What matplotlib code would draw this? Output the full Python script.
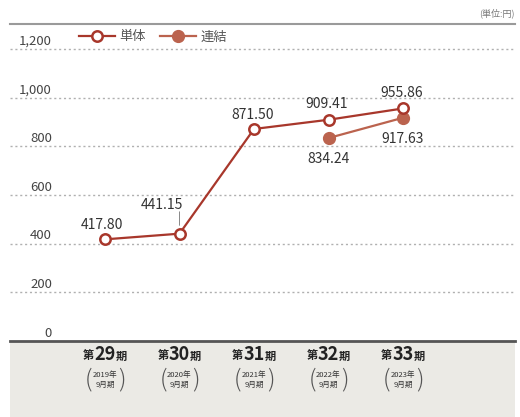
import matplotlib.pyplot as plt
from matplotlib.offsetbox import TextArea, HPacker, AnnotationBbox
from matplotlib.patches import Rectangle
import matplotlib.transforms as mtransforms

plt.rcParams['font.family'] = ['Noto Sans CJK JP', 'DejaVu Sans']

# data
periods = ['29', '30', '31', '32', '33']
years = ['2019', '2020', '2021', '2022', '2023']
single = [417.80, 441.15, 871.50, 909.41, 955.86]
consol_x = [3, 4]
consol = [834.24, 917.63]
yticks = [0, 200, 400, 600, 800, 1000, 1200]

c_single = '#a8372b'
c_consol = '#bb634e'

W, H = 520, 417
fig = plt.figure(figsize=(W / 100, H / 100), dpi=100)

# axes box in pixels: x 10..515, y 24..341 (from top)
ax = fig.add_axes([10 / W, (H - 341) / H, 505 / W, 317 / H])
ax.set_xlim(-1.275, 5.503)
ax.set_ylim(0, 1303)

# gray panel under the chart
fig.patches.append(Rectangle((10 / W, 0), 505 / W, (H - 342) / H,
                             transform=fig.transFigure, facecolor='#ebeae5',
                             edgecolor='none', zorder=-1))

for s in ['left', 'right']:
    ax.spines[s].set_visible(False)
ax.spines['top'].set_color('#9a9a9a')
ax.spines['top'].set_linewidth(1.5)
ax.spines['bottom'].set_color('#555555')
ax.spines['bottom'].set_linewidth(2)
ax.set_xticks([])
ax.set_yticks([])

# gridlines and y labels
blend = mtransforms.blended_transform_factory(fig.transFigure, ax.transData)
for v in yticks:
    if v > 0:
        ax.axhline(v, color='#b0b0b0', lw=1, ls=(0, (1.5, 2)), zorder=1)
    ax.text(52 / W, v + 5, f'{v:,}', transform=blend, ha='right', va='bottom',
            fontsize=9.5, color='#444444')

# lines
xs = list(range(len(single)))
ax.plot(xs, single, color=c_single, lw=1.6, marker='o', ms=7.5,
        mfc='white', mec=c_single, mew=1.8, label='単体', zorder=4)
ax.plot(consol_x, consol, color=c_consol, lw=1.6, marker='o', ms=8.5,
        mfc=c_consol, mec=c_consol, label='連結', zorder=3)

# value labels (offsets in points)
offs_single = [(-2, 10), (-13, 21), (-1, 10), (-1, 11), (-1, 11)]
for x, v, (dx, dy) in zip(xs, single, offs_single):
    ax.annotate(f'{v:.2f}', (x, v), xytext=(dx, dy), textcoords='offset points',
                ha='center', va='center', fontsize=10, color='#333333')
ax.annotate('', (1, 441.15), xytext=(1, 441.15 + 90),
            arrowprops=dict(arrowstyle='-', color='#888888', lw=0.7,
                            shrinkA=0, shrinkB=6))
for x, v in zip(consol_x, consol):
    ax.annotate(f'{v:.2f}', (x, v), xytext=(0, -15), textcoords='offset points',
                ha='center', va='center', fontsize=10, color='#333333')

# legend
ax.legend(loc='center left', bbox_to_anchor=(0.137, 0.959), ncol=2,
          frameon=False, handlelength=2.7, handletextpad=0.35,
          columnspacing=1.1, borderpad=0, borderaxespad=0,
          prop={'size': 9.5}, labelcolor='#555555')

# unit label
fig.text(515 / W, (H - 13) / H, '(単位:円)', ha='right', va='center',
         fontsize=6.5, color='#777777')

# x labels
xblend = mtransforms.blended_transform_factory(ax.transData, fig.transFigure)
for x, p, yr in zip(xs, periods, years):
    box = HPacker(children=[
        TextArea('第', textprops=dict(fontsize=8, color='#222222', weight='bold')),
        TextArea(p, textprops=dict(fontsize=13, color='#222222', weight='bold')),
        TextArea('期', textprops=dict(fontsize=8, color='#222222', weight='bold')),
    ], align='baseline', pad=0, sep=0)
    ab = AnnotationBbox(box, (x, (H - 354) / H), xycoords=xblend,
                        frameon=False, box_alignment=(0.5, 0.5), pad=0,
                        annotation_clip=False)
    ax.add_artist(ab)
    ax.text(x, (H - 380) / H, f'{yr}年\n9月期', transform=xblend, ha='center',
            va='center', fontsize=5.5, color='#333333', linespacing=1.3)
    ax.text(x - 0.22, (H - 380) / H, '(', transform=xblend, ha='center',
            va='center', fontsize=17, color='#555555', weight='light')
    ax.text(x + 0.22, (H - 380) / H, ')', transform=xblend, ha='center',
            va='center', fontsize=17, color='#555555', weight='light')

fig.savefig('out.png', dpi=100)
